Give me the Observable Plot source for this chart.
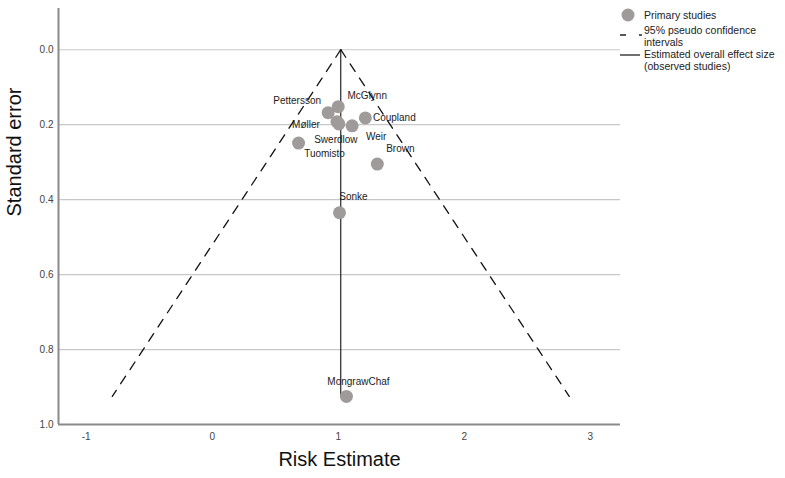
<!DOCTYPE html>
<html>
<head>
<meta charset="utf-8">
<script src="https://cdn.jsdelivr.net/npm/d3@7"></script>
<script src="https://cdn.jsdelivr.net/npm/@observablehq/plot@0.6"></script>
<style>
  html, body { margin: 0; padding: 0; background: #fff; }
  #wrap { position: relative; width: 785px; height: 478px; font-family: "Liberation Sans", Arial, sans-serif; }
  #legend { position: absolute; left: 616px; top: 6px; font-size: 10.5px; color: #222; line-height: 12px; }
  .lg-row { position: relative; padding-left: 28px; }
  .lg-sym { position: absolute; left: 0; }
</style>
</head>
<body>
<div id="wrap">
  <div id="chart"></div>
  <div id="legend">
    <div class="lg-row" style="height:18px;">
      <svg class="lg-sym" width="26" height="16" style="top:0;"><circle cx="12" cy="9" r="6.5" fill="#a09b9b"></circle></svg>
      <div style="padding-top:3px;">Primary studies</div>
    </div>
    <div class="lg-row" style="height:24px;">
      <svg class="lg-sym" width="28" height="24" style="top:0;"><line x1="4" y1="11" x2="26" y2="11" stroke="#222" stroke-width="1.3" stroke-dasharray="6,13"></line></svg>
      <div>95% pseudo confidence<br>intervals</div>
    </div>
    <div class="lg-row" style="height:24px;">
      <svg class="lg-sym" width="28" height="24" style="top:0;"><line x1="4" y1="7" x2="24" y2="7" stroke="#222" stroke-width="1.3"></line></svg>
      <div>Estimated overall effect size<br>(observed studies)</div>
    </div>
  </div>
</div>
<script>
// ---- data ----
const studies = ["Pettersson", "McGlynn", "Coupland", "Møller", "Swerdlow", "Weir", "Brown", "Tuomisto", "Sonke", "MongrawChaf"];
const riskEstimates = [0.92, 1.00, 1.215, 0.99, 1.005, 1.11, 1.31, 0.685, 1.01, 1.065];
const standardErrors = [0.168, 0.152, 0.182, 0.192, 0.198, 0.203, 0.305, 0.249, 0.435, 0.925];
const overallEffect = 1.02;
const xTicks = [-1, 0, 1, 2, 3];
const yTicks = [0, 0.2, 0.4, 0.6, 0.8, 1.0];

// label offsets (pixels, relative to each point)
const labelDx = [-31, 29, 29, -31, -3, 24, 23, 26, 14, 12];
const labelDy = [-12, -11, 0, 3, 16, 11, -15, 11, -16, -15];

const data = studies.map((s, i) => ({study: s, est: riskEstimates[i], se: standardErrors[i], dx: labelDx[i], dy: labelDy[i]}));
const seMax = d3.max(standardErrors);
const z = 1.96;
const funnelLeft = [{x: overallEffect, y: 0}, {x: overallEffect - z * seMax, y: seMax}];
const funnelRight = [{x: overallEffect, y: 0}, {x: overallEffect + z * seMax, y: seMax}];
const effectLine = [{x: overallEffect, y: 0}, {x: overallEffect, y: seMax}];

const xDomain = [-1.22, 3.24];
const yDomain = [-0.11, 1.0];

const chart = Plot.plot({
  width: 785,
  height: 478,
  marginLeft: 58,
  marginRight: 165,
  marginTop: 8,
  marginBottom: 54,
  style: {fontFamily: "'Liberation Sans', Arial, sans-serif", fontSize: "10px", color: "#333", background: "#fff"},
  x: {domain: xDomain, label: null},
  y: {domain: yDomain, reverse: true, label: null},
  marks: [
    Plot.gridY(yTicks.filter(t => t < 1), {stroke: "#c8c8c8", strokeOpacity: 1, strokeWidth: 1.2}),
    Plot.ruleX([xDomain[0]], {stroke: "#8a8a8a", strokeWidth: 2}),
    Plot.ruleY([yDomain[1]], {stroke: "#8a8a8a", strokeWidth: 2}),
    Plot.axisX(xTicks, {tickSize: 0, tickPadding: 8, tickFormat: d => String(d), fill: "#444", fontSize: 10, label: null}),
    Plot.axisY(yTicks, {tickSize: 0, tickPadding: 5, tickFormat: ".1f", fill: "#444", fontSize: 10, label: null}),
    Plot.line(funnelLeft, {x: "x", y: "y", stroke: "#111", strokeWidth: 1.3, strokeDasharray: "9,8"}),
    Plot.line(funnelRight, {x: "x", y: "y", stroke: "#111", strokeWidth: 1.3, strokeDasharray: "9,8"}),
    Plot.line(effectLine, {x: "x", y: "y", stroke: "#111", strokeWidth: 1.1}),
    Plot.dot(data, {x: "est", y: "se", r: 6.5, fill: "#a09b9b", stroke: "none"}),
    ...data.map(d => Plot.text([d], {x: "est", y: "se", text: "study", dx: d.dx, dy: d.dy, fill: "#222", fontSize: 10})),
    Plot.text(["Standard error"], {frameAnchor: "left", dx: -44, rotate: -90, fontSize: 20, fill: "#111"}),
    Plot.text(["Risk Estimate"], {frameAnchor: "bottom", dy: 41, fontSize: 20, fill: "#111"})
  ]
});
document.getElementById("chart").appendChild(chart);
</script>
</body>
</html>
